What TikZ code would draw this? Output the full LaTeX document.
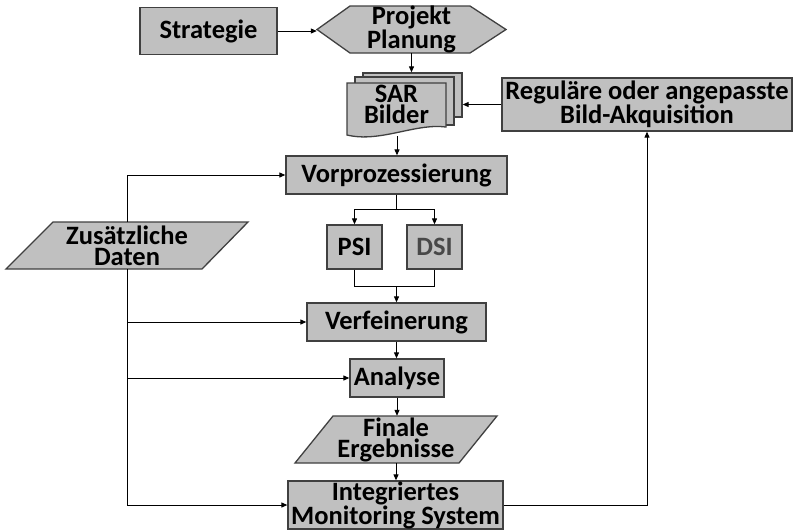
\documentclass[tikz,border=0pt]{standalone}
\usepackage{fontspec}
\setmainfont{Carlito}
\usetikzlibrary{arrows.meta}
\definecolor{boxfill}{RGB}{192,192,192}
\definecolor{boxline}{RGB}{64,64,64}
\definecolor{dsitext}{RGB}{72,72,72}
\begin{document}
\begin{tikzpicture}[x=1pt,y=-1pt,
  every node/.style={font=\fontsize{26.5}{21}\selectfont\bfseries, align=center, inner sep=0pt},
  stepbox/.style={draw=boxline, fill=boxfill, line width=1.3pt},
  link/.style={line width=1pt, -{Triangle[length=6pt,width=5pt]}},
  plain/.style={line width=1pt}]
\useasboundingbox (0,0) rectangle (794,531);

% planning stage
\node[stepbox, minimum width=137pt, minimum height=47pt] (strat) at (208.5,31) {Strategie};
\path[stepbox] (317,29.5) -- (350,6) -- (470,6) -- (506,29.5) -- (470,53) -- (350,53) -- cycle;
\node[minimum width=189pt, minimum height=47pt] (plan) at (411.5,29.5) {Projekt\\Planung};

% stacked SAR image documents
\node[stepbox, minimum width=99pt, minimum height=44pt] (sarback) at (412.5,95) {};
\node[stepbox, minimum width=99pt, minimum height=48pt] (sarmid) at (404.5,101) {};
\path[stepbox] (347,83) -- (446,83) -- (446,127)
  .. controls (415,123) and (380,143) .. (347,135) -- cycle;
\node (sar) at (396.5,104) {SAR\\Bilder};

\node[stepbox, minimum width=290pt, minimum height=53pt] (reg) at (647,104.5) {Reguläre oder angepasste\\Bild-Akquisition};

% processing chain
\node[stepbox, minimum width=221pt, minimum height=38pt] (vor) at (396.5,175) {Vorprozessierung};
\node[stepbox, minimum width=55pt, minimum height=44pt] (psi) at (354.5,247) {PSI};
\node[stepbox, minimum width=55pt, minimum height=44pt, text=dsitext] (dsi) at (434.5,247) {DSI};
\node[stepbox, minimum width=179pt, minimum height=38pt] (ver) at (396.5,322) {Verfeinerung};
\node[stepbox, minimum width=94pt, minimum height=38pt] (ana) at (397,378) {Analyse};

\path[stepbox] (333,416) -- (497,416) -- (459,463) -- (295,463) -- cycle;
\node[minimum width=202pt, minimum height=47pt] (fin) at (396,439.5) {Finale\\Ergebnisse};

\node[stepbox, minimum width=215pt, minimum height=48pt] (int) at (395.5,505) {Integriertes\\Monitoring System};

% additional data input
\path[stepbox] (53,222) -- (248,222) -- (202,269) -- (6,269) -- cycle;
\node[minimum width=242pt, minimum height=47pt] (zus) at (127,245.5) {Zusätzliche\\Daten};

% connectors
\draw[link] (strat.east) -- (strat.east -| plan.west);
\draw[link] (plan.south) -- (plan.south |- sarback.north);
\draw[link] (reg.west) -- (reg.west -| sarback.east);
\coordinate (sarfoot) at (397,136);
\draw[link] (sarfoot) -- (sarfoot |- vor.north);

\coordinate (split) at (396.5,209);
\draw[plain] (vor.south) -- (split);
\draw[link] (split) -| (psi.north);
\draw[link] (split) -| (dsi.north);
\coordinate (join) at (396.5,286);
\draw[plain] (psi.south) |- (join);
\draw[plain] (dsi.south) |- (join);
\draw[link] (join) -- (ver.north);

\draw[link] (ver.south) -- (ver.south |- ana.north);
\draw[link] (ana.south) -- (ana.south |- fin.north);
\draw[link] (fin.south) -- (fin.south |- int.north);
\draw[link] (int.east) -| (reg.south);

\draw[link] (zus.north) |- (vor.west);
\draw[link] (zus.south) |- (int.west);
\draw[link] (zus.south |- ver.west) -- (ver.west);
\draw[link] (zus.south |- ana.west) -- (ana.west);
\end{tikzpicture}
\end{document}
